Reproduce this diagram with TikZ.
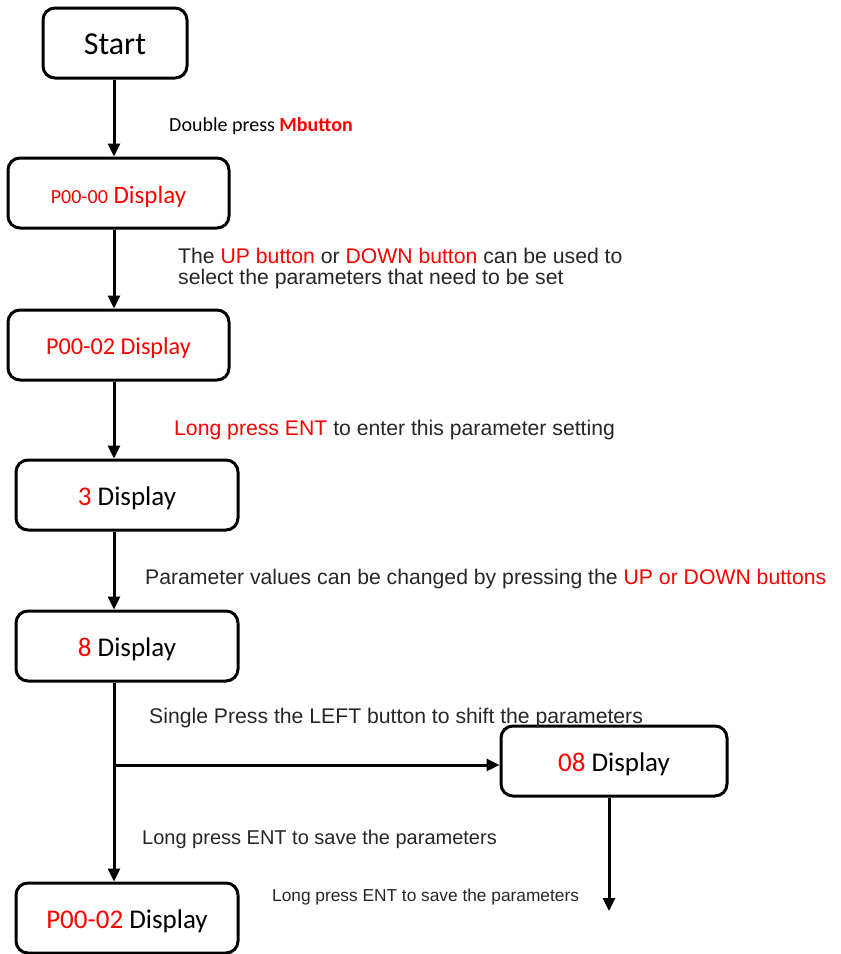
\documentclass[tikz,border=0pt]{standalone}
\usepackage{fontspec}
\setmainfont{Carlito}
\newfontfamily\arialf{Liberation Sans}
\usetikzlibrary{arrows.meta}
\definecolor{txtgray}{HTML}{262626}
\definecolor{myred}{HTML}{FF0000}
\tikzset{
  box/.style={draw=black, line width=3pt, rounded corners=12pt, minimum height=70pt, inner sep=0pt, text height=21.5pt, text depth=0pt, font=\fontsize{27}{30}\selectfont},
  arr/.style={line width=3pt, -{Triangle[length=13pt,width=12pt]}},
  lab/.style={anchor=west, inner sep=0pt, text=txtgray, font=\arialf\fontsize{21.2}{21}\selectfont, align=left},
}
\begin{document}
\begin{tikzpicture}[x=1pt,y=-1pt]
\useasboundingbox (0,0) rectangle (841,954);
% boxes
\node[box, minimum width=144pt, text height=22pt, font=\fontsize{32}{36}\selectfont] (start) at (115,43) {Start};
\node[box, minimum width=221pt, text height=20.5pt, font=\fontsize{25}{28}\selectfont] (p0) at (118.5,193) {\textcolor{myred}{\fontsize{20}{22}\selectfont P00-00} \textcolor{myred}{Display}};
\node[box, minimum width=221pt, text height=18.5pt, font=\fontsize{24.2}{28}\selectfont] (p2) at (118.5,345) {\textcolor{myred}{P00-02 Display}};
\node[box, minimum width=222pt] (d3) at (127,495) {\textcolor{myred}{3} Display};
\node[box, minimum width=222pt] (d8) at (127,646) {\textcolor{myred}{8} Display};
\node[box, minimum width=226pt] (d08) at (614,761) {\textcolor{myred}{08} Display};
\node[box, minimum width=222pt] (pf) at (127,918) {\textcolor{myred}{P00-02} Display};
% spine
\coordinate (spine) at (114,0);
\coordinate (br) at (114,765);
\coordinate (endp) at (609,911);
\draw[arr] (start.south -| spine) -- (p0.north -| spine);
\draw[arr] (p0.south -| spine) -- (p2.north -| spine);
\draw[arr] (p2.south -| spine) -- (d3.north -| spine);
\draw[arr] (d3.south -| spine) -- (d8.north -| spine);
\draw[arr] (d8.south -| spine) -- (pf.north -| spine);
\draw[arr] (br) -- (d08.west |- br);
\draw[arr] (d08.south -| endp) -- (endp);
% labels
\node[anchor=west, inner sep=0pt, font=\fontsize{20}{22}\selectfont] (l1) at (169,126) {Double press \textcolor{myred}{\textbf{Mbutton}}};
\node[lab] (l2) at (178,268.5) {The \textcolor{myred}{UP button} or \textcolor{myred}{DOWN button} can be used to\\select the parameters that need to be set};
\node[lab] (l3) at (174,430) {\textcolor{myred}{Long press ENT} to enter this parameter setting};
\node[lab] (l4) at (145,579) {Parameter values can be changed by pressing the \textcolor{myred}{UP or DOWN buttons}};
\node[lab] (l5) at (149,718) {Single Press the LEFT button to shift the parameters};
\node[lab, font=\arialf\fontsize{20}{22}\selectfont] (l6) at (142,839) {Long press ENT to save the parameters};
\node[lab, font=\arialf\fontsize{17.3}{20}\selectfont] (l7) at (272,897) {Long press ENT to save the parameters};
\end{tikzpicture}
\end{document}
